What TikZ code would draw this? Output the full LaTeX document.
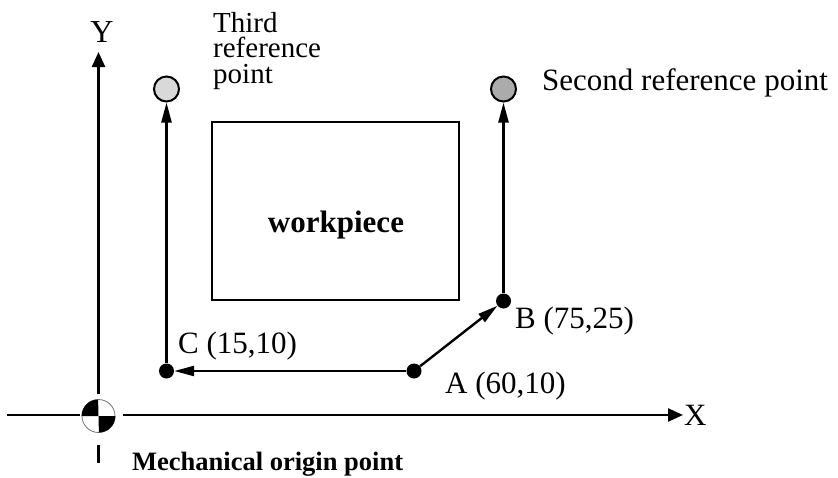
\documentclass[tikz,border=0pt]{standalone}
\usepackage{fontspec}
\setmainfont{Liberation Serif}
\usetikzlibrary{arrows.meta}
\begin{document}
\begin{tikzpicture}[x=1pt,y=-1pt,
  lbl/.style={inner sep=0pt,anchor=base west,font=\fontsize{31}{31}\selectfont},
  dot/.style={circle,fill=black,inner sep=0pt,minimum size=15pt},
  refpt/.style={circle,draw=black,line width=2pt,inner sep=0pt,minimum size=25pt},
  pathline/.style={line width=2.4pt,-{Triangle[length=20pt,width=10pt]}},
  axis/.style={line width=2.4pt},
  axisarrow/.style={line width=2.4pt,-{Triangle[length=15pt,width=13pt]}}]
\useasboundingbox (0,0) rectangle (838,477);
% workpiece
\node[draw=black,line width=2pt,minimum width=247pt,minimum height=178pt,inner sep=0pt] (wp) at (335.5,211) {};
\node[inner sep=0pt,anchor=base,font=\fontsize{31}{31}\selectfont\bfseries] (wpl) at (336,232) {workpiece};
% points
\node[dot] (C) at (166.5,371) {};
\node[dot] (A) at (414,371) {};
\node[dot] (B) at (503.5,301) {};
\node[refpt,fill=black!15] (R3) at (166.5,89) {};
\node[refpt,fill=black!33] (R2) at (503.5,89) {};
% connectors
\draw[pathline] (A) -- (C);
\draw[pathline] (A) -- (B);
\draw[pathline] (C) -- (R3);
\draw[pathline] (B) -- (R2);
% origin
\node[circle,draw=black!55,line width=0.8pt,inner sep=0pt,minimum size=33pt] (O) at (98.5,416) {};
\fill (O.center) -- (O.east) arc[start angle=0,end angle=-90,radius=16.5pt] -- cycle;
\fill (O.center) -- (O.west) arc[start angle=180,end angle=90,radius=16.5pt] -- cycle;
\coordinate (ytop) at (98.5,52);
\coordinate (ya) at (98.5,394);
\coordinate (yb) at (98.5,445);
\coordinate (yc) at (98.5,463);
\coordinate (xl) at (7,415);
\coordinate (xm) at (80,415);
\coordinate (xr) at (123,415);
\coordinate (xtip) at (683,415);
\draw[axisarrow] (ya) -- (ytop);
\draw[axis] (yb) -- (yc);
\draw[axis] (xl) -- (xm);
\draw[axisarrow] (xr) -- (xtip);
% labels
\node[inner sep=0pt,anchor=base,font=\fontsize{32}{32}\selectfont] (Yl) at (102,42) {Y};
\node[lbl] (Xl) at (684,425) {X};
\node[inner sep=0pt,anchor=base west,align=left,font=\fontsize{29}{25.5}\selectfont] (t1) at (213,83) {Third\\reference\\point};
\node[lbl] (sl) at (542,90) {Second reference point};
\node[lbl] (Cl) at (178,353) {C (15,10)};
\node[lbl] (Bl) at (515,328) {B (75,25)};
\node[lbl] (Al) at (445,393) {A (60,10)};
\node[inner sep=0pt,anchor=base west,font=\fontsize{26.5}{26.5}\selectfont\bfseries] (Ml) at (132,470) {Mechanical origin point};
\end{tikzpicture}
\end{document}
